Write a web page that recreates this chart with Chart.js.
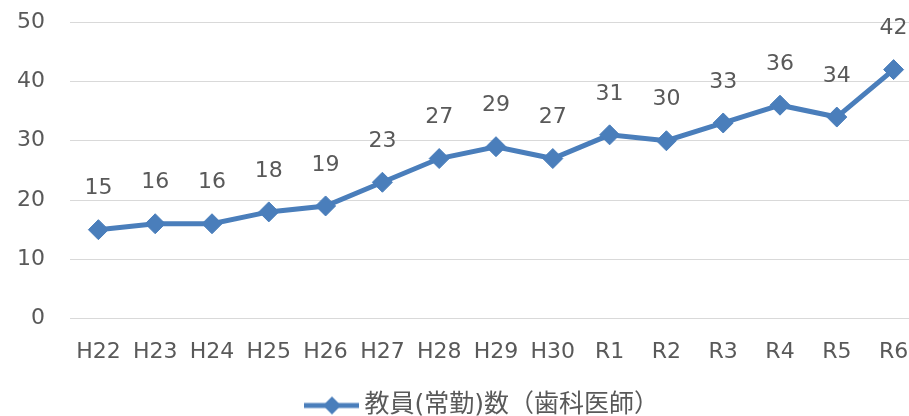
<!DOCTYPE html>
<html>
<head>
<meta charset="utf-8">
<script src="https://cdn.jsdelivr.net/npm/chart.js@4/dist/chart.umd.min.js"></script>
<style>
  html, body { margin: 0; padding: 0; background: #fff; overflow: hidden; }
  #wrap { position: relative; width: 909px; height: 416px; overflow: hidden; }
  #chart { position: absolute; left: -28px; top: -16px; }
</style>
</head>
<body>
<div id="wrap"><canvas id="chart" width="961" height="446"></canvas></div>
<script>
// Data
const categories = ['H22', 'H23', 'H24', 'H25', 'H26', 'H27', 'H28', 'H29', 'H30', 'R1', 'R2', 'R3', 'R4', 'R5', 'R6'];
const teachers = [15, 16, 16, 18, 19, 23, 27, 29, 27, 31, 30, 33, 36, 34, 42];
const seriesName = '教員(常勤)数（歯科医師）';

const blue = '#4a7ebb';
const textColor = '#595959';
const fontFamily = '"DejaVu Sans", "Noto Sans CJK JP", sans-serif';
const fontSize = 22;
const legendFontSize = 25;

// legend marker: line with a diamond, drawn wider than its box so it sits close to the text
const legendBox = 86;
function legendMarker() {
    const c = document.createElement('canvas');
    c.width = legendBox + 14; c.height = 20;
    const g = c.getContext('2d');
    const x1 = legendBox - 41, x2 = legendBox + 14, xm = legendBox - 13;
    g.strokeStyle = blue;
    g.lineWidth = 5;
    g.beginPath();
    g.moveTo(x1, 10); g.lineTo(x2, 10);
    g.stroke();
    g.fillStyle = blue;
    g.beginPath();
    g.moveTo(xm, 1); g.lineTo(xm + 9, 10); g.lineTo(xm, 19); g.lineTo(xm - 9, 10);
    g.closePath();
    g.fill();
    return c;
}

// value labels above points
const valueLabels = {
    id: 'valueLabels',
    afterDatasetsDraw(chart) {
        const c = chart.ctx;
        const meta = chart.getDatasetMeta(0);
        c.save();
        c.font = fontSize + 'px ' + fontFamily;
        c.fillStyle = textColor;
        c.textAlign = 'center';
        c.textBaseline = 'middle';
        meta.data.forEach((pt, i) => {
            c.fillText(String(chart.data.datasets[0].data[i]), pt.x, pt.y - 41);
        });
        c.restore();
    }
};

const marker = legendMarker();

new Chart(document.getElementById('chart'), {
    type: 'line',
    data: {
        labels: categories,
        datasets: [{
            label: seriesName,
            data: teachers,
            borderColor: blue,
            backgroundColor: blue,
            borderWidth: 5,
            pointStyle: 'rectRot',
            pointRadius: 10,
            pointBorderWidth: 1,
            pointBackgroundColor: blue,
            pointBorderColor: blue,
            tension: 0
        }]
    },
    options: {
        responsive: false,
        animation: false,
        layout: { padding: { left: 20, right: 0, top: 10, bottom: 2 } },
        plugins: {
            tooltip: { enabled: false },
            legend: {
                position: 'bottom',
                labels: {
                    color: textColor,
                    font: { family: fontFamily, size: legendFontSize },
                    usePointStyle: true,
                    pointStyleWidth: legendBox,
                    padding: 8,
                    generateLabels: (chart) => [{
                        text: seriesName,
                        pointStyle: marker,
                        fillStyle: blue,
                        strokeStyle: blue,
                        lineWidth: 0,
                        datasetIndex: 0,
                        fontColor: textColor
                    }]
                }
            }
        },
        scales: {
            x: {
                offset: true,
                grid: { display: false, drawTicks: false },
                border: { display: false },
                ticks: { color: textColor, font: { family: fontFamily, size: fontSize }, padding: 20, maxRotation: 0 }
            },
            y: {
                min: 0,
                max: 50,
                ticks: { stepSize: 10, color: textColor, font: { family: fontFamily, size: fontSize }, padding: 25 },
                grid: { color: '#d9d9d9', lineWidth: 1, drawTicks: false },
                border: { display: false }
            }
        }
    },
    plugins: [valueLabels]
});
</script>
</body>
</html>
